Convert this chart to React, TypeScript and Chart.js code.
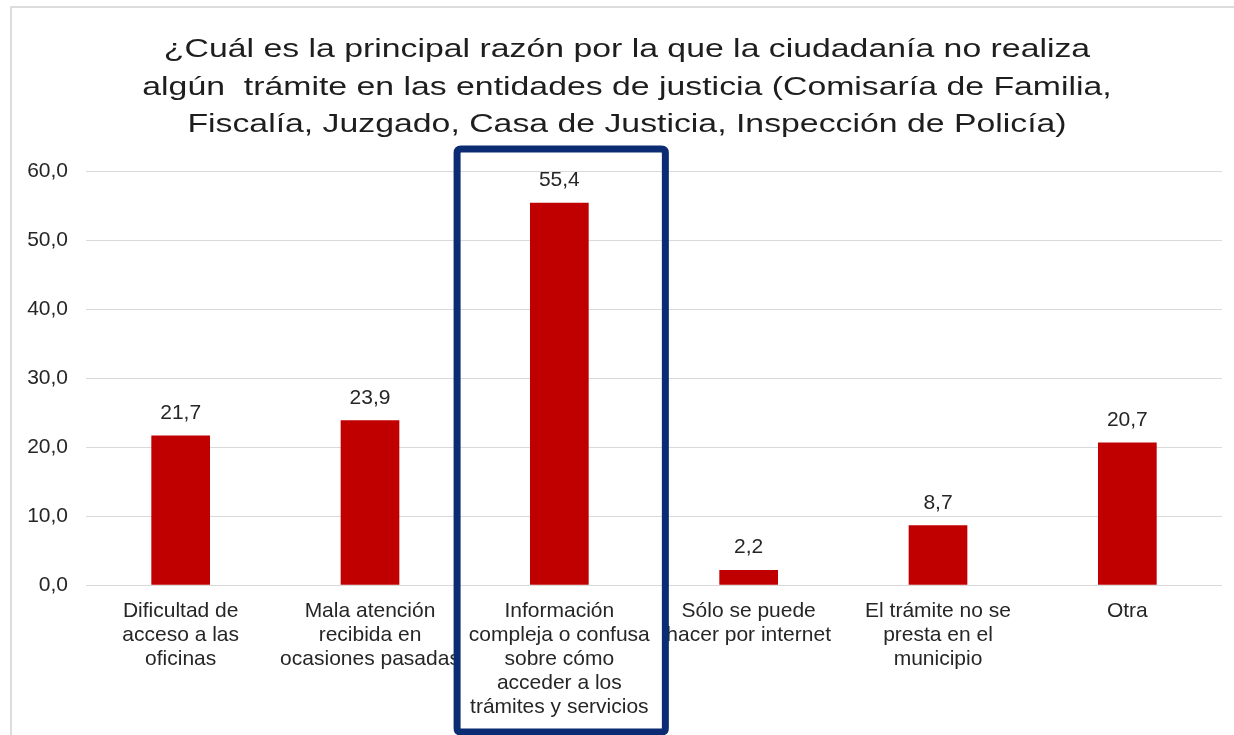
import React, { useEffect, useRef } from "react";
import { Chart, registerables } from "chart.js";

Chart.register(...registerables);

const titleLines = [
  "¿Cuál es la principal razón por la que la ciudadanía no realiza",
  "algún  trámite en las entidades de justicia (Comisaría de Familia,",
  "Fiscalía, Juzgado, Casa de Justicia, Inspección de Policía)",
];

const categories: string[][] = [
  ["Dificultad de", "acceso a las", "oficinas"],
  ["Mala atención", "recibida en", "ocasiones pasadas"],
  ["Información", "compleja o confusa", "sobre cómo", "acceder a los", "trámites y servicios"],
  ["Sólo se puede", "hacer por internet"],
  ["El trámite no se", "presta en el", "municipio"],
  ["Otra"],
];

const values = [21.7, 23.9, 55.4, 2.2, 8.7, 20.7];
const highlightIndex = 2;

const fmt = (v: number) => v.toFixed(1).replace(".", ",");

const FONT = "'Liberation Sans', Arial, sans-serif";
const TEXT = "#262626";
const TITLE_SIZE = 26;
const TITLE_LH = 1.45;
const TITLE_PAD_TOP = 31;
const TITLE_STRETCH = 1.3;

const valueLabels = {
  id: "valueLabels",
  afterDatasetsDraw(chart: any) {
    const ctx = chart.ctx;
    const meta = chart.getDatasetMeta(0);
    ctx.save();
    ctx.font = `21px ${FONT}`;
    ctx.fillStyle = TEXT;
    ctx.textAlign = "center";
    ctx.textBaseline = "bottom";
    meta.data.forEach((bar: any, i: number) => {
      ctx.fillText(fmt(values[i]), bar.x, bar.y - 12);
    });
    ctx.restore();
  },
};

const stretchedTitle = {
  id: "stretchedTitle",
  afterDraw(chart: any) {
    const ctx = chart.ctx;
    const tb = chart.titleBlock;
    const cx = chart.width / 2 + 10;
    const top = tb ? tb.top : 0;
    const lh = TITLE_SIZE * TITLE_LH;
    ctx.save();
    ctx.font = `${TITLE_SIZE}px ${FONT}`;
    ctx.fillStyle = "#1e1e1e";
    ctx.textAlign = "center";
    ctx.textBaseline = "middle";
    titleLines.forEach((line, i) => {
      ctx.save();
      ctx.translate(cx, top + TITLE_PAD_TOP + lh * (i + 0.5));
      ctx.scale(TITLE_STRETCH, 1);
      ctx.fillText(line, 0, 0);
      ctx.restore();
    });
    ctx.restore();
  },
};

const highlightBox = {
  id: "highlightBox",
  afterDraw(chart: any) {
    const ctx = chart.ctx;
    const xs = chart.scales.x;
    const w = xs.width / categories.length;
    const c = xs.getPixelForValue(highlightIndex);
    const left = c - 0.54 * w;
    const right = c + 0.56 * w;
    const top = chart.chartArea.top - 22;
    const bottom = chart.height - 3;
    const r = 4;
    ctx.save();
    ctx.strokeStyle = "#0b2c72";
    ctx.lineWidth = 7;
    ctx.beginPath();
    ctx.moveTo(left + r, top);
    ctx.lineTo(right - r, top);
    ctx.quadraticCurveTo(right, top, right, top + r);
    ctx.lineTo(right, bottom - r);
    ctx.quadraticCurveTo(right, bottom, right - r, bottom);
    ctx.lineTo(left + r, bottom);
    ctx.quadraticCurveTo(left, bottom, left, bottom - r);
    ctx.lineTo(left, top + r);
    ctx.quadraticCurveTo(left, top, left + r, top);
    ctx.closePath();
    ctx.stroke();
    ctx.restore();
  },
};

export default function App() {
  const ref = useRef<HTMLCanvasElement | null>(null);

  useEffect(() => {
    if (!ref.current) return;
    Chart.defaults.font.family = FONT;
    const chart = new Chart(ref.current, {
      type: "bar",
      data: {
        labels: categories,
        datasets: [
          {
            data: values,
            backgroundColor: "#c00000",
            borderWidth: 0,
            barPercentage: 0.31,
            categoryPercentage: 1,
          },
        ],
      },
      options: {
        responsive: false,
        animation: false,
        layout: { padding: { left: 16, right: 12, top: 0, bottom: 2 } },
        plugins: {
          legend: { display: false },
          tooltip: { enabled: false },
          title: {
            display: true,
            text: titleLines,
            color: "rgba(0,0,0,0)",
            font: { size: TITLE_SIZE, weight: "normal", lineHeight: TITLE_LH },
            padding: { top: TITLE_PAD_TOP, bottom: 27 },
          },
        },
        scales: {
          x: {
            grid: { display: false, drawTicks: false },
            border: { display: false },
            ticks: {
              color: TEXT,
              font: { size: 21, lineHeight: 1.14 },
              padding: 14,
              maxRotation: 0,
              minRotation: 0,
              autoSkip: false,
            },
          },
          y: {
            min: 0,
            max: 60,
            grid: { color: "#d9d9d9", lineWidth: 1, drawTicks: false },
            border: { display: false },
            afterFit: (s: any) => {
              s.width = 70;
            },
            ticks: {
              stepSize: 10,
              color: TEXT,
              font: { size: 21 },
              padding: 18,
              callback: (v: any) => fmt(Number(v)),
            },
          },
        },
      },
      plugins: [valueLabels, stretchedTitle, highlightBox],
    });
    return () => chart.destroy();
  }, []);

  return (
    <div
      style={{
        position: "fixed",
        left: 0,
        top: 0,
        width: 1234,
        height: 735,
        background: "#ffffff",
        overflow: "hidden",
      }}
    >
      <div
        style={{
          position: "absolute",
          left: 10,
          top: 6,
          right: 0,
          bottom: 0,
          borderTop: "2px solid #dcdcdc",
          borderLeft: "2px solid #dcdcdc",
        }}
      />
      <canvas
        ref={ref}
        width={1234}
        height={735}
        style={{ position: "absolute", left: 0, top: 0, width: 1234, height: 735 }}
      />
    </div>
  );
}
